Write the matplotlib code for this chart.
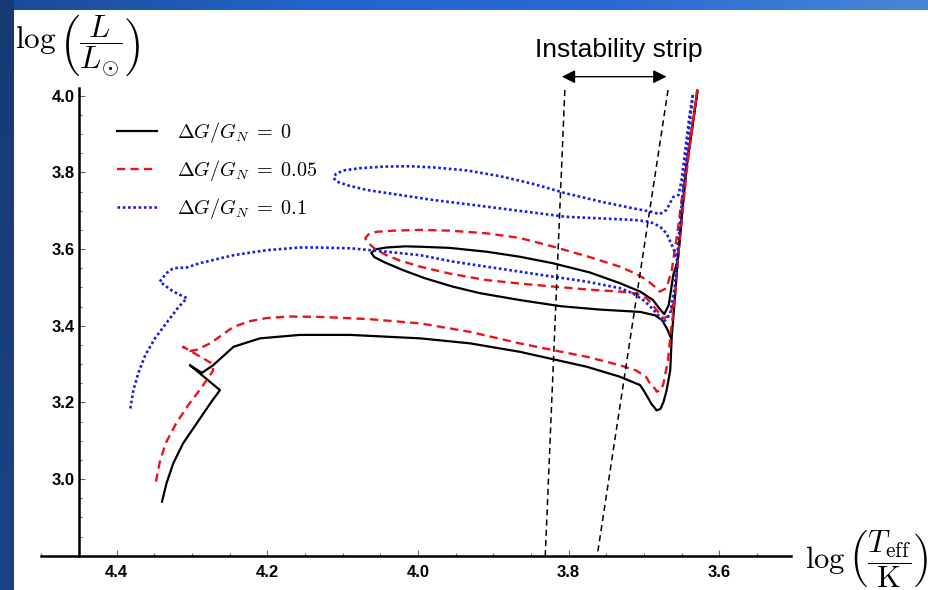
import numpy as np
import matplotlib.pyplot as plt
from matplotlib.ticker import MultipleLocator, FixedLocator
from matplotlib.colors import LinearSegmentedColormap

plt.rcParams['mathtext.fontset'] = 'cm'

# dG/G_N = 0 : ZAMS, hook, Hertzsprung gap, giant branch
teff_0 = [4.340, 4.334, 4.325, 4.312, 4.294, 4.276, 4.263, 4.290, 4.303, 4.287, 4.272,
          4.245, 4.210, 4.157, 4.090, 3.997, 3.931, 3.865, 3.776, 3.732, 3.705, 3.699,
          3.690, 3.683, 3.678, 3.674, 3.670, 3.665, 3.663, 3.659, 3.655, 3.644, 3.629]
lum_0 = [2.941, 2.989, 3.041, 3.093, 3.145, 3.197, 3.232, 3.276, 3.297, 3.277, 3.297,
         3.345, 3.367, 3.376, 3.376, 3.367, 3.354, 3.332, 3.293, 3.267, 3.245, 3.227,
         3.196, 3.179, 3.183, 3.201, 3.230, 3.284, 3.373, 3.467, 3.571, 3.806, 4.010]
# dG/G_N = 0 : blue loop
teff_0_loop = [3.664, 3.669, 3.676, 3.685, 3.705, 3.758, 3.811, 3.865, 3.918, 3.954,
               3.991, 4.020, 4.044, 4.058, 4.062, 4.057, 4.042, 4.017, 3.997, 3.958,
               3.909, 3.865, 3.821, 3.772, 3.732, 3.705, 3.688, 3.679, 3.673, 3.667,
               3.661, 3.655, 3.644, 3.629]
lum_0_loop = [3.368, 3.391, 3.415, 3.427, 3.436, 3.442, 3.451, 3.467, 3.485, 3.502,
              3.524, 3.545, 3.565, 3.579, 3.590, 3.599, 3.604, 3.607, 3.606, 3.603,
              3.593, 3.580, 3.563, 3.539, 3.511, 3.489, 3.467, 3.444, 3.430, 3.454,
              3.532, 3.571, 3.806, 4.010]

# dG/G_N = 0.05
teff_05 = [4.348, 4.343, 4.335, 4.321, 4.305, 4.290, 4.276, 4.272, 4.274, 4.312, 4.303,
           4.294, 4.276, 4.245, 4.223, 4.201, 4.170, 4.130, 4.064, 3.997, 3.931, 3.865,
           3.825, 3.776, 3.732, 3.710, 3.697, 3.692, 3.685, 3.683, 3.677, 3.674, 3.668,
           3.664, 3.659, 3.655, 3.643, 3.629]
lum_05 = [2.993, 3.044, 3.094, 3.146, 3.193, 3.232, 3.271, 3.284, 3.302, 3.345, 3.334,
          3.337, 3.354, 3.397, 3.412, 3.420, 3.424, 3.423, 3.417, 3.406, 3.384, 3.354,
          3.338, 3.319, 3.297, 3.283, 3.266, 3.250, 3.235, 3.228, 3.232, 3.250, 3.310,
          3.389, 3.467, 3.571, 3.806, 4.017]
teff_05_loop = [3.661, 3.665, 3.674, 3.683, 3.696, 3.710, 3.732, 3.772, 3.820, 3.865,
                3.909, 3.958, 3.997, 4.024, 4.042, 4.057, 4.066, 4.070, 4.066, 4.055,
                4.031, 3.997, 3.958, 3.909, 3.865, 3.820, 3.772, 3.732, 3.710, 3.696,
                3.685, 3.679, 3.670, 3.663, 3.655, 3.643, 3.629]
lum_05_loop = [3.458, 3.428, 3.419, 3.441, 3.471, 3.484, 3.489, 3.494, 3.502, 3.510,
               3.519, 3.536, 3.554, 3.570, 3.584, 3.600, 3.616, 3.628, 3.638, 3.645,
               3.648, 3.650, 3.648, 3.641, 3.629, 3.606, 3.579, 3.554, 3.535, 3.519,
               3.501, 3.489, 3.498, 3.545, 3.650, 3.832, 4.017]

# dG/G_N = 0.1
teff_1 = [4.382, 4.378, 4.371, 4.362, 4.349, 4.333, 4.319, 4.307, 4.325, 4.343, 4.334,
          4.325, 4.307, 4.290, 4.245, 4.201, 4.157, 4.135, 4.090, 4.042, 3.997, 3.953,
          3.909, 3.865, 3.821, 3.776, 3.732, 3.715, 3.701, 3.692, 3.683, 3.674, 3.670,
          3.665, 3.659, 3.654, 3.647, 3.635]
lum_1 = [3.184, 3.232, 3.279, 3.324, 3.368, 3.410, 3.446, 3.472, 3.489, 3.515, 3.537,
         3.550, 3.552, 3.563, 3.584, 3.597, 3.604, 3.604, 3.602, 3.593, 3.584, 3.567,
         3.554, 3.541, 3.528, 3.515, 3.498, 3.485, 3.467, 3.451, 3.432, 3.410, 3.417,
         3.432, 3.502, 3.624, 3.780, 4.002]
teff_1_loop = [3.657, 3.661, 3.670, 3.679, 3.692, 3.714, 3.758, 3.803, 3.847, 3.891,
               3.935, 3.980, 4.024, 4.068, 4.093, 4.108, 4.112, 4.109, 4.099, 4.077,
               4.046, 4.011, 3.980, 3.935, 3.891, 3.847, 3.803, 3.758, 3.714, 3.692,
               3.679, 3.670, 3.661, 3.654, 3.650, 3.639, 3.635]
lum_1_loop = [3.580, 3.602, 3.641, 3.659, 3.671, 3.676, 3.680, 3.684, 3.695, 3.706,
              3.717, 3.728, 3.741, 3.754, 3.766, 3.776, 3.785, 3.796, 3.805, 3.811,
              3.815, 3.816, 3.813, 3.805, 3.790, 3.770, 3.745, 3.724, 3.706, 3.698,
              3.691, 3.702, 3.736, 3.741, 3.780, 3.954, 4.002]

# instability strip edges (top, bottom)
strip_lum = [4.015, 2.80]
strip_blue_edge = [3.805, 3.831]
strip_red_edge = [3.668, 3.762]
strip_arrow = [3.809, 3.670]

fig = plt.figure(figsize=(9.29, 5.9), dpi=100)
fig.patch.set_facecolor('white')

# slide border: gradient band along the top, dark band down the left
top = fig.add_axes([0, 1 - 10 / 590, 1, 10 / 590])
top_cmap = LinearSegmentedColormap.from_list('top', ['#1b4a96', '#2365cc', '#2a6ad2', '#4a86d8'])
top.imshow(np.linspace(0, 1, 256)[None, :], aspect='auto', cmap=top_cmap, extent=[0, 1, 0, 1])
top.axis('off')
left = fig.add_axes([0, 0, 14 / 929, 1])
left_cmap = LinearSegmentedColormap.from_list('left', ['#163a74', '#1b4384'])
left.imshow(np.linspace(0, 1, 256)[:, None], aspect='auto', cmap=left_cmap, extent=[0, 1, 0, 1])
left.axis('off')

ax = fig.add_axes([0.04467, 0.0581, 0.8065, 0.7927])
ax.patch.set_alpha(0)
ax.set_xlim(4.5, 3.505)
ax.set_ylim(2.8, 4.02)

red = '#e8141b'
blue = '#1a1ee0'
dash = (0, (3.5, 2.2))
dots = (0, (1.0, 1.0))
ax.plot(teff_0, lum_0, color='black', lw=1.6, solid_joinstyle='round',
        label=r'$\Delta G/G_N\;=\;0$')
ax.plot(teff_0_loop, lum_0_loop, color='black', lw=1.6, solid_joinstyle='round')
ax.plot(teff_05, lum_05, color=red, lw=1.7, ls=dash, label=r'$\Delta G/G_N\;=\;0.05$')
ax.plot(teff_05_loop, lum_05_loop, color=red, lw=1.7, ls=dash)
ax.plot(teff_1, lum_1, color=blue, lw=1.9, ls=dots, label=r'$\Delta G/G_N\;=\;0.1$')
ax.plot(teff_1_loop, lum_1_loop, color=blue, lw=1.9, ls=dots)

ax.plot(strip_blue_edge, strip_lum, color='black', lw=1.1, ls=(0, (4, 2.7)))
ax.plot(strip_red_edge, strip_lum, color='black', lw=1.1, ls=(0, (4, 2.7)))

ax.annotate('', xy=(strip_arrow[0], 4.0496), xytext=(strip_arrow[1], 4.0496),
            arrowprops=dict(arrowstyle='<|-|>', color='black', lw=1.0, mutation_scale=20,
                            shrinkA=0, shrinkB=0),
            annotation_clip=False)
ax.text(3.733, 4.101, 'Instability strip', ha='center', va='baseline', fontsize=19,
        family='Liberation Sans', clip_on=False)

# axes crossing at (4.45, 2.8)
for s in ['top', 'right']:
    ax.spines[s].set_visible(False)
ax.spines['left'].set_position(('data', 4.45))
ax.spines['left'].set_linewidth(1.8)
ax.spines['bottom'].set_linewidth(1.8)

ax.xaxis.set_major_locator(FixedLocator([4.4, 4.2, 4.0, 3.8, 3.6]))
ax.xaxis.set_minor_locator(MultipleLocator(0.05))
ax.yaxis.set_major_locator(FixedLocator([3.0, 3.2, 3.4, 3.6, 3.8, 4.0]))
ax.yaxis.set_minor_locator(MultipleLocator(0.05))
ax.set_xticklabels(['4.4', '4.2', '4.0', '3.8', '3.6'])
ax.set_yticklabels(['3.0', '3.2', '3.4', '3.6', '3.8', '4.0'])
ax.tick_params(which='both', direction='in', color='#666666', width=0.8)
ax.tick_params(which='major', length=4)
ax.tick_params(which='minor', length=2.5)
ax.tick_params(axis='y', which='major', pad=3)
ax.tick_params(axis='x', which='major', pad=7)
for lab in ax.get_xticklabels() + ax.get_yticklabels():
    lab.set_fontfamily('Liberation Sans')
    lab.set_fontweight('bold')
    lab.set_fontsize(12)

ax.legend(loc='upper left', bbox_to_anchor=(0.1008, 0.931), frameon=False, fontsize=14.5,
          handlelength=2.0, handletextpad=1.0, labelspacing=0.65, borderpad=0,
          borderaxespad=0)

fig.text(15 / 929, 1 - 46 / 590, r'$\log\left(\dfrac{L}{L_{\odot}}\right)$', fontsize=22.5,
         ha='left', va='center')
fig.text(805 / 929, 1 - 559 / 590, r'$\log\left(\dfrac{T_{\mathrm{eff}}}{\mathrm{K}}\right)$',
         fontsize=22, ha='left', va='center')

fig.savefig('out.png', dpi=100)
